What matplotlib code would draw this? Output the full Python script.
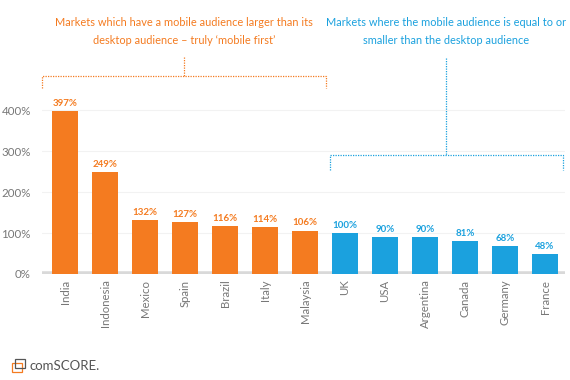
import numpy as np
import matplotlib.pyplot as plt
from matplotlib.patches import Rectangle

plt.rcParams['font.family'] = ['Lato', 'DejaVu Sans']

### data
countries = ['India', 'Indonesia', 'Mexico', 'Spain', 'Brazil', 'Italy', 'Malaysia',
             'UK', 'USA', 'Argentina', 'Canada', 'Germany', 'France']
values = [397, 249, 132, 127, 116, 114, 106, 100, 90, 90, 81, 68, 48]
mobile_first = [True] * 7 + [False] * 6
yticks = [0, 100, 200, 300, 400]

orange = '#F47B20'
blue = '#1BA1DE'
gray = '#777777'

fig = plt.figure(figsize=(5.7, 3.8), dpi=100)
W, H = 570, 380
ax = fig.add_axes([42 / W, 1 - 274 / H, 523 / W, (274 - 102) / H])

x = np.arange(len(countries))
colors = [orange if m else blue for m in mobile_first]
ax.bar(x, values, width=0.65, color=colors, zorder=3)
for xi, v, c in zip(x, values, colors):
    ax.text(xi, v + 8, f'{v}%', ha='center', va='bottom', color=c,
            fontsize=7, fontweight='bold')

ax.set_xlim(-0.575, 12.5)
ax.set_ylim(0, 420)
ax.set_yticks(yticks)
ax.set_yticklabels([f'{t}%' for t in yticks], color=gray, fontsize=8.3)
ax.set_xticks(x)
ax.set_xticklabels(countries, rotation=90, color=gray, fontsize=8.2)
ax.tick_params(length=0, pad=4)
ax.tick_params(axis='y', pad=8)
for s in ax.spines.values():
    s.set_visible(False)
ax.grid(axis='y', color='#f2f2f2', lw=0.8, zorder=0)
ax.axhline(0, color='#d9d9d9', lw=4, zorder=2)

### brackets (figure pixel coords)
def px(xp, yp):
    return xp / W, 1 - yp / H

def line(xs, ys, c):
    fx = [xx / W for xx in xs]
    fy = [1 - yy / H for yy in ys]
    fig.add_artist(plt.Line2D(fx, fy, color=c, lw=0.9, ls=(0, (1, 1))))

line([42, 42, 326, 326], [88, 76, 76, 88], orange)
line([184, 184], [57, 76], orange)
line([330, 330, 563, 563], [170, 155, 155, 170], blue)
line([446, 446], [58, 155], blue)

fig.text(*px(184, 22), 'Markets which have a mobile audience larger than its',
         ha='center', va='center', color=orange, fontsize=7.9)
fig.text(*px(184, 40), 'desktop audience \u2013 truly \u2018mobile first\u2019',
         ha='center', va='center', color=orange, fontsize=7.9)
fig.text(*px(446, 22), 'Markets where the mobile audience is equal to or',
         ha='center', va='center', color=blue, fontsize=7.9)
fig.text(*px(446, 40), 'smaller than the desktop audience',
         ha='center', va='center', color=blue, fontsize=7.9)

### logo
fig.add_artist(Rectangle(px(12, 372), 10 / W, 9 / H, fill=False, ec=orange, lw=0.9))
fig.add_artist(Rectangle(px(15, 368), 10 / W, 9 / H, fill=False, ec='#555555', lw=0.9))
fig.text(*px(29, 366), 'comSCORE.', ha='left', va='center', color='#555555', fontsize=9.5)

fig.savefig('out.png', dpi=100)
